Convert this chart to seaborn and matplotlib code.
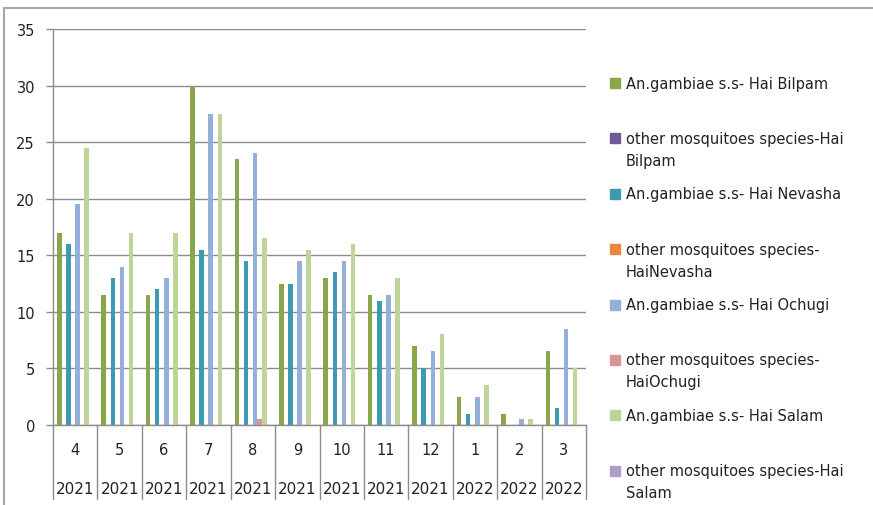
import pandas as pd
import seaborn as sns
import matplotlib.pyplot as plt
from matplotlib.patches import Rectangle

# dados
meses = [4, 5, 6, 7, 8, 9, 10, 11, 12, 1, 2, 3]
anos = [2021, 2021, 2021, 2021, 2021, 2021, 2021, 2021, 2021, 2022, 2022, 2022]

series = [
    "An.gambiae s.s- Hai Bilpam",
    "other mosquitoes species-Hai\nBilpam",
    "An.gambiae s.s- Hai Nevasha",
    "other mosquitoes species-\nHaiNevasha",
    "An.gambiae s.s- Hai Ochugi",
    "other mosquitoes species-\nHaiOchugi",
    "An.gambiae s.s- Hai Salam",
    "other mosquitoes species-Hai\nSalam",
]

gambiae_bilpam = [17, 11.5, 11.5, 30, 23.5, 12.5, 13, 11.5, 7, 2.5, 1, 6.5]
outros_bilpam = [0, 0, 0, 0, 0, 0, 0, 0, 0, 0, 0, 0]
gambiae_nevasha = [16, 13, 12, 15.5, 14.5, 12.5, 13.5, 11, 5, 1, 0, 1.5]
outros_nevasha = [0, 0, 0, 0, 0, 0, 0, 0, 0, 0, 0, 0]
gambiae_ochugi = [19.5, 14, 13, 27.5, 24, 14.5, 14.5, 11.5, 6.5, 2.5, 0.5, 8.5]
outros_ochugi = [0, 0, 0, 0, 0.5, 0, 0, 0, 0, 0, 0, 0]
gambiae_salam = [24.5, 17, 17, 27.5, 16.5, 15.5, 16, 13, 8, 3.5, 0.5, 5]
outros_salam = [0, 0, 0, 0, 0, 0, 0, 0, 0, 0, 0, 0]

cores = ["#8AA64B", "#715A9A", "#3E9AB2", "#E5883C",
         "#95B0D8", "#D99594", "#BFD49A", "#ADA0C8"]

valores = [gambiae_bilpam, outros_bilpam, gambiae_nevasha, outros_nevasha,
           gambiae_ochugi, outros_ochugi, gambiae_salam, outros_salam]

periodos = [f"{m}-{a}" for m, a in zip(meses, anos)]
linhas = []
for nome, vals in zip(series, valores):
    for p, v in zip(periodos, vals):
        linhas.append({"periodo": p, "serie": nome, "valor": v})
df = pd.DataFrame(linhas)

sns.set_style("white")
plt.rcParams['font.family'] = ['DejaVu Sans']

W, H = 873, 506
fig = plt.figure(figsize=(W / 100, H / 100), dpi=100)
ax = fig.add_axes([53 / W, 1 - 426 / H, (586 - 53) / W, (426 - 30) / H])

sns.barplot(data=df, x="periodo", y="valor", hue="serie", order=periodos,
            hue_order=series, palette=dict(zip(series, cores)), width=0.82,
            linewidth=0, saturation=1, legend=False, ax=ax)

cinza = "#8C8C8C"
ax.set_ylim(0, 35)
ax.set_xlim(-0.5, len(periodos) - 0.5)
ax.set_yticks(range(0, 36, 5))
ax.yaxis.grid(True, color=cinza, linewidth=1)
ax.set_axisbelow(True)
ax.set_xticks([])
ax.set_xlabel("")
ax.set_ylabel("")
for lado in ["top", "right"]:
    ax.spines[lado].set_visible(False)
for lado in ["left", "bottom"]:
    ax.spines[lado].set_color(cinza)
    ax.spines[lado].set_linewidth(1)
ax.tick_params(axis="y", left=True, length=5, width=1, color=cinza,
               pad=8, labelsize=10.5, labelcolor="#222222")

# eixo de categorias em dois niveis
trans = ax.get_xaxis_transform()
for i, (m, a) in enumerate(zip(meses, anos)):
    ax.text(i, -0.063, str(m), transform=trans, ha="center", va="center",
            fontsize=10.5, color="#222222")
    ax.text(i, -0.16, str(a), transform=trans, ha="center", va="center",
            fontsize=11, color="#222222")
for k in range(len(periodos) + 1):
    ax.plot([k - 0.5, k - 0.5], [0, -0.187], transform=trans, color=cinza,
            linewidth=1, clip_on=False)

# legenda manual
for j, (nome, cor) in enumerate(zip(series, cores)):
    yc = 84 + j * 55.4
    fig.patches.append(Rectangle((610 / W, 1 - (yc + 5) / H), 10 / W, 10 / H,
                                 color=cor, transform=fig.transFigure))
    for k, parte in enumerate(nome.split("\n")):
        fig.text(626 / W, 1 - (yc + k * 22) / H, parte, ha="left", va="center",
                 fontsize=10.5, color="#222222")

# moldura do grafico
fig.patches.append(Rectangle((4 / W, -0.1), 1.2, 1.1 - 9 / H, fill=False,
                             edgecolor="#A6A6A6", linewidth=1.5,
                             transform=fig.transFigure))

plt.savefig("out.png", dpi=100)
